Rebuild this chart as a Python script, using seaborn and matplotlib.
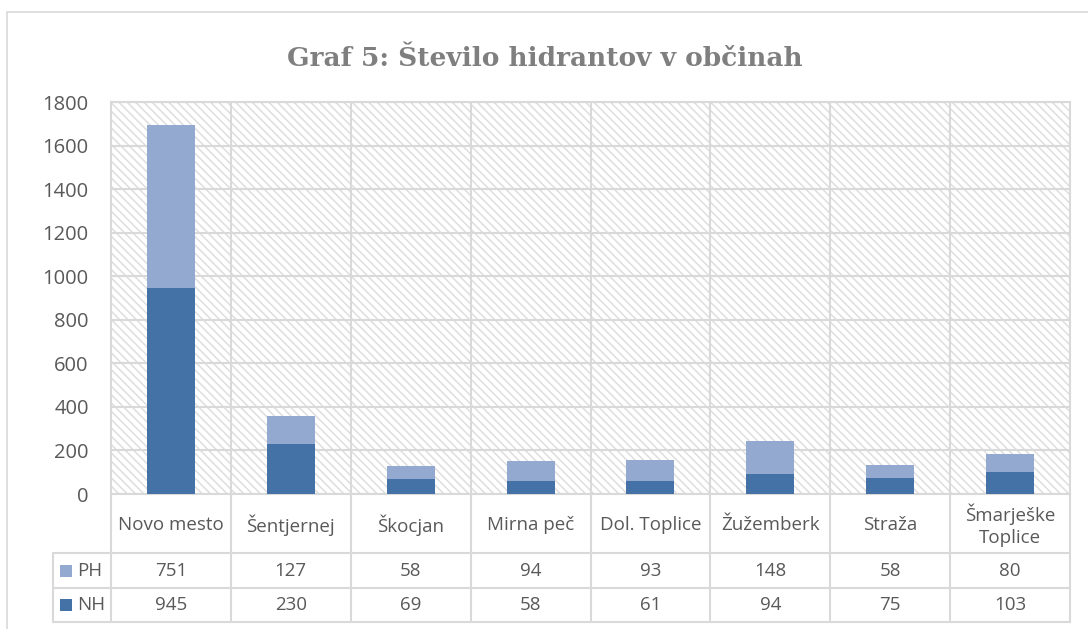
import numpy as np
import matplotlib.pyplot as plt
import seaborn as sns
from matplotlib.patches import Rectangle
import matplotlib.transforms as mtransforms

categories = ["Novo mesto", "Šentjernej", "Škocjan", "Mirna peč", "Dol. Toplice",
              "Žužemberk", "Straža", "Šmarješke\nToplice"]
ph = [751, 127, 58, 94, 93, 148, 58, 80]
nh = [945, 230, 69, 58, 61, 94, 75, 103]
series_names = ["PH", "NH"]
yticks = [0, 200, 400, 600, 800, 1000, 1200, 1400, 1600, 1800]

dark = "#4471A6"
light = "#93A9D0"
grid_c = "#D9D9D9"
text_c = "#595959"

sns.set_style("white")
plt.rcParams['font.family'] = ['Open Sans', 'DejaVu Sans']
plt.rcParams['hatch.color'] = "#DEDEDE"
plt.rcParams['hatch.linewidth'] = 1.1

fig = plt.figure(figsize=(10.88, 6.29), dpi=100)
ax = fig.add_axes([111 / 1088, 1 - 494 / 629, (1070 - 111) / 1088, 392 / 629])

# hatched plot area
ax.add_patch(Rectangle((0, 0), 1, 1, transform=ax.transAxes, facecolor="white",
                       edgecolor="#DEDEDE", hatch="\\\\\\\\", linewidth=0, zorder=0))

# stacked bars: total (PH on top) then NH over it
totals = [a + b for a, b in zip(ph, nh)]
sns.barplot(x=categories, y=totals, color=light, width=0.4, saturation=1, ax=ax,
            linewidth=0, zorder=3)
sns.barplot(x=categories, y=nh, color=dark, width=0.4, saturation=1, ax=ax,
            linewidth=0, zorder=4)

ax.set_xlim(-0.5, len(categories) - 0.5)
ax.set_ylim(0, 1800)
ax.set_yticks(yticks)
ax.set_yticklabels([str(t) for t in yticks])
ax.set_xticks([])
ax.set_xlabel("")
ax.set_ylabel("")
ax.tick_params(axis="y", length=0, pad=16, labelsize=14.5, labelcolor=text_c)
ax.yaxis.grid(True, color=grid_c, linewidth=1.5, zorder=1)
ax.set_axisbelow(True)
for i in range(len(categories) - 1):
    ax.axvline(i + 0.5, color=grid_c, linewidth=1.5, zorder=1)
for s in ax.spines.values():
    s.set_color(grid_c)
    s.set_linewidth(1.5)

# data table below the plot
tr = mtransforms.blended_transform_factory(ax.transData, ax.transAxes)
y_cat, y_ph, y_nh, y_end = -0.1505, -0.2398, -0.3265, -0.3265
left = -0.984
for i in range(len(categories) + 1):
    ax.plot([i - 0.5, i - 0.5], [0, y_end], transform=tr, color=grid_c, lw=1.5, clip_on=False)
ax.plot([left, left], [y_cat, y_end], transform=tr, color=grid_c, lw=1.5, clip_on=False)
for yy in [y_cat, y_ph, y_nh]:
    ax.plot([left, len(categories) - 0.5], [yy, yy], transform=tr, color=grid_c, lw=1.5, clip_on=False)

fs = 13.5
for i, c in enumerate(categories):
    ax.text(i, -0.0791, c, transform=tr, ha="center", va="center", fontsize=fs,
            color=text_c, linespacing=1.25)
    ax.text(i, -0.1964, str(ph[i]), transform=tr, ha="center", va="center", fontsize=fs, color=text_c)
    ax.text(i, -0.2832, str(nh[i]), transform=tr, ha="center", va="center", fontsize=fs, color=text_c)

for name, col, yy in [(series_names[0], light, -0.1964), (series_names[1], dark, -0.2832)]:
    ax.add_patch(Rectangle((-0.925, yy - 0.0153), 0.1, 0.0306, transform=tr,
                           facecolor=col, edgecolor="none", clip_on=False))
    ax.text(-0.783, yy, name, transform=tr, ha="left", va="center", fontsize=fs, color=text_c)

# chart border
fig.patches.append(Rectangle((7 / 1088, -0.02), 1.1, 1 - 12 / 629 + 0.02, transform=fig.transFigure,
                             facecolor="none", edgecolor=grid_c, lw=1.2))

fig.text(544.5 / 1088, 1 - 58 / 629, "Graf 5: Število hidrantov v občinah", ha="center", va="center",
         fontsize=19, fontweight="bold", color="#7F7F7F", family=["DejaVu Serif"])

fig.savefig("out.png", dpi=100)
